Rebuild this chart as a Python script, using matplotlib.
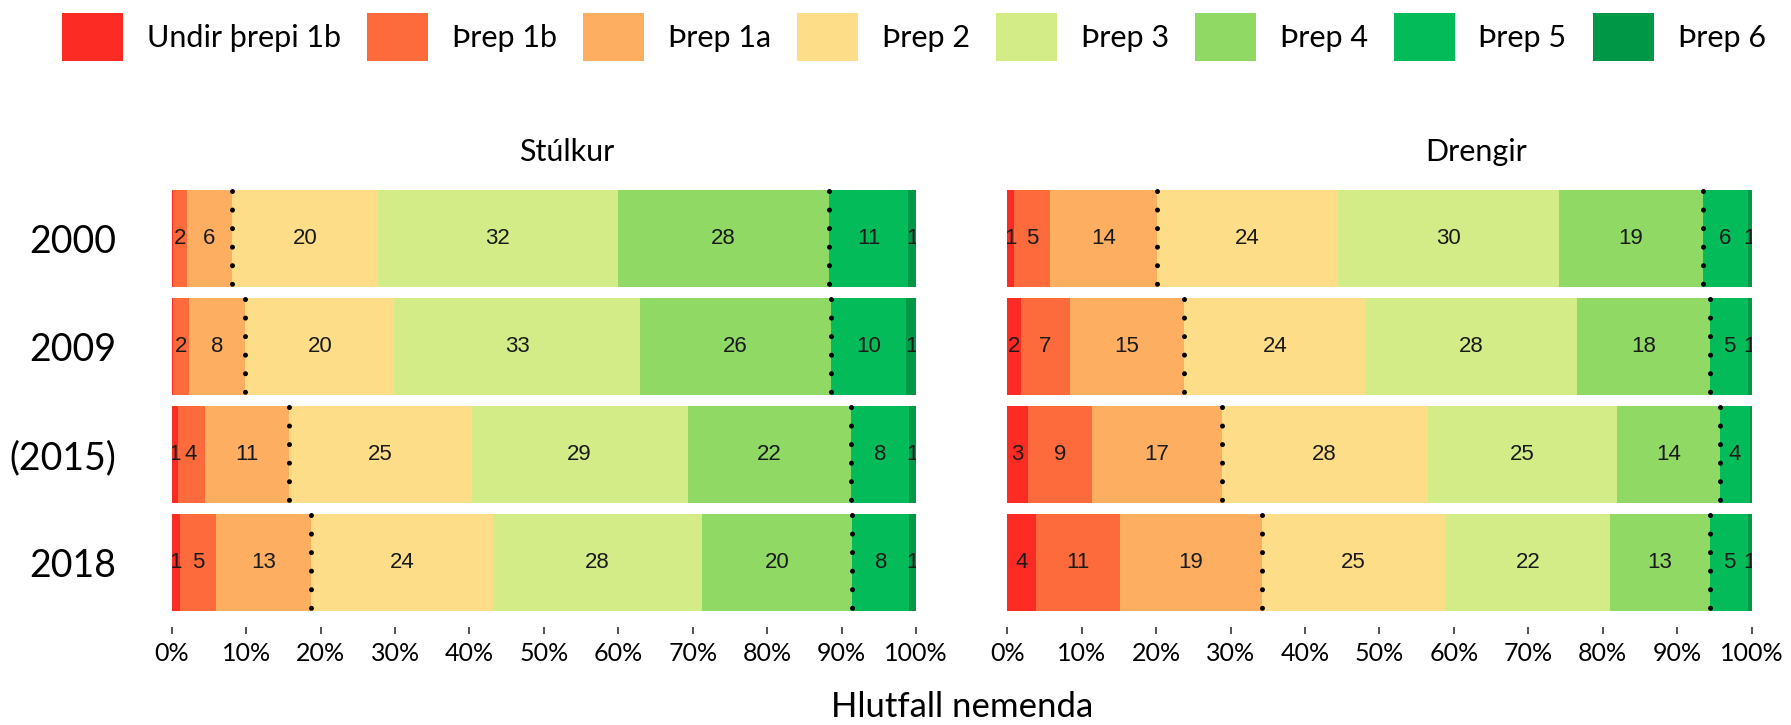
import numpy as np
import matplotlib.pyplot as plt
from matplotlib.patches import Patch

# proficiency levels (legend order) and colours
levels = ["Undir þrepi 1b", "Þrep 1b", "Þrep 1a", "Þrep 2", "Þrep 3", "Þrep 4", "Þrep 5", "Þrep 6"]
colors = ["#FC2B24", "#FD6A3B", "#FDAE61", "#FEDD88", "#D3EC88", "#90D964", "#03BB58", "#009846"]

years = ["2000", "2009", "(2015)", "2018"]

# percent of students per level, one row per year
girls = np.array([
    [0.2, 1.8, 6.1, 19.6, 32.2, 28.4, 10.6, 1.1],
    [0.2, 2.1, 7.6, 20.0, 33.0, 25.7, 10.1, 1.3],
    [0.8, 3.6, 11.3, 24.6, 29.0, 22.0, 7.8, 0.9],
    [1.1, 4.9, 12.7, 24.4, 28.2, 20.1, 7.7, 0.9],
])
boys = np.array([
    [0.9, 4.8, 14.4, 24.4, 29.6, 19.4, 6.0, 0.5],
    [1.8, 6.6, 15.4, 24.4, 28.3, 17.9, 5.1, 0.5],
    [2.8, 8.6, 17.4, 27.7, 25.4, 13.8, 4.1, 0.2],
    [3.8, 11.3, 19.1, 24.7, 22.1, 13.4, 5.1, 0.5],
])

panels = [("Stúlkur", girls, 0.53), ("Drengir", boys, 0.63)]

fig = plt.figure(figsize=(17.91, 7.25), dpi=100)
lefts = [0.0959, 0.5624]
ypos = np.arange(len(years))

for i, (title, data, tx) in enumerate(panels):
    ax = fig.add_axes([lefts[i], 0.135, 0.4156, 0.625])
    cum = np.zeros(len(years))
    for j in range(len(levels)):
        ax.barh(ypos, data[:, j], left=cum, height=0.9, color=colors[j], linewidth=0)
        for k in range(len(years)):
            v = data[k, j]
            lab = int(np.floor(v + 0.5))
            if lab >= 1:
                ax.text(cum[k] + v / 2, ypos[k], str(lab), ha="center", va="center",
                        fontsize=16, family="Liberation Sans", color="#1a1a1a", clip_on=True)
        cum = cum + data[:, j]

    # dotted separators: after Þrep 1a and after Þrep 4
    for cut in (3, 6):
        xs = data[:, :cut].sum(axis=1)
        ax.vlines(xs, ypos - 0.44, ypos + 0.44, colors="black", linewidth=3.6,
                  linestyles=(0, (0.01, 3.7)), capstyle="round")

    ax.set_xlim(0, 100)
    ax.set_ylim(3.6, -0.6)
    ax.set_xticks(np.arange(0, 101, 10))
    ax.set_xticklabels([f"{t}%" for t in range(0, 101, 10)], family="Lato", fontsize=18)
    ax.tick_params(axis="x", length=5, width=1.3, color="#444444", pad=6)
    ax.set_yticks(ypos)
    if i == 0:
        ax.set_yticklabels(years, family="Lato", fontsize=27)
        ax.tick_params(axis="y", length=0, pad=40)
    else:
        ax.set_yticklabels([])
        ax.tick_params(axis="y", length=0)
    for s in ax.spines.values():
        s.set_visible(False)
    ax.text(tx, 1.048, title, transform=ax.transAxes, ha="center", va="center",
            family="Lato", fontsize=22)

fig.text(0.537, 0.025, "Hlutfall nemenda", ha="center", va="center", family="Lato", fontsize=25)

handles = [Patch(facecolor=c, edgecolor="none") for c in colors]
fig.legend(handles, levels, loc="center left", bbox_to_anchor=(0.0345, 1 - 37 / 725),
           ncol=8, frameon=False, prop={"family": "Lato", "size": 22},
           handlelength=2.0, handleheight=2.04, handletextpad=0.78, columnspacing=0.85,
           borderpad=0, borderaxespad=0)

fig.savefig("out.png", dpi=100, facecolor="white")
